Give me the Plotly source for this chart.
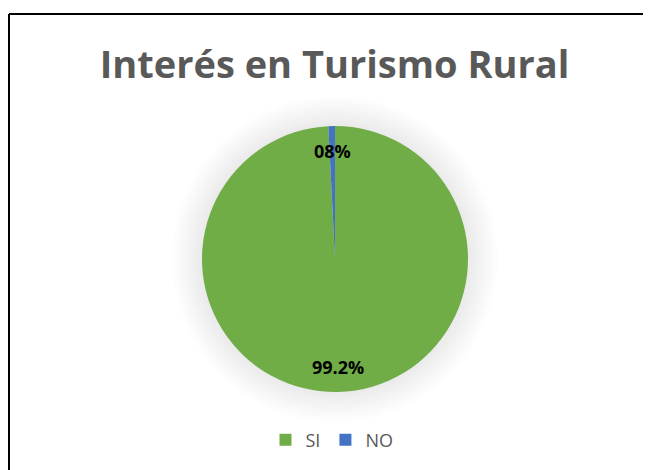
import math
import plotly.graph_objects as go

labels = ['SI', 'NO']
values = [99.2, 0.8]
label_text = ['99.2%', '08%']
colors = ['#70AD47', '#4472C4']

W, H = 651, 470
OFF = 8  # page body margin
CX, CY, R = 335 - OFF, 259 - OFF, 133  # pie centre / radius in px (figure coords)

fig = go.Figure()
fig.add_trace(go.Pie(
    labels=labels, values=values, sort=False, direction='clockwise', rotation=0,
    marker=dict(colors=colors, line=dict(width=0)),
    textinfo='none', hoverinfo='label+percent',
    domain=dict(x=[(CX - 250) / W, (CX + 250) / W],
                y=[1 - (CY + R) / H, 1 - (CY - R) / H]),
))

# data labels placed at the angular mid-point of each slice
total = sum(values)
cum = 0
annotations = []
for v, t in zip(values, label_text):
    mid = (cum + v / 2) / total * 2 * math.pi
    cum += v
    px_ = CX + 0.81 * R * math.sin(mid)
    py_ = CY - 0.81 * R * math.cos(mid)
    annotations.append(dict(x=px_ / W, y=1 - py_ / H, xref='paper', yref='paper',
                            xanchor='center', yanchor='middle',
                            text='<b>%s</b>' % t, showarrow=False,
                            font=dict(family='Open Sans', size=18, color='black')))

# soft shadow around the pie
shapes = []
for k in range(10, 0, -1):
    r = R + 3 * k
    shapes.append(dict(type='circle', xref='paper', yref='paper', layer='below',
                       x0=(CX - r) / W, x1=(CX + r) / W,
                       y0=1 - (CY + r) / H, y1=1 - (CY - r) / H,
                       fillcolor='rgba(0,0,0,0.007)', line=dict(width=0)))
# chart border (top and left visible)
shapes.append(dict(type='line', xref='paper', yref='paper', x0=1 / W, x1=1.02,
                   y0=1 - 6 / H, y1=1 - 6 / H, line=dict(color='black', width=2)))
shapes.append(dict(type='line', xref='paper', yref='paper', x0=1 / W, x1=1 / W,
                   y0=1 - 6 / H, y1=-0.02, line=dict(color='black', width=2)))

fig.update_layout(
    width=W, height=H, margin=dict(l=0, r=0, t=0, b=0),
    paper_bgcolor='white', plot_bgcolor='white',
    title=dict(text='<b>Interés en Turismo Rural</b>', x=326.5 / W, xanchor='center',
               y=1 - 57 / H, yanchor='middle',
               font=dict(family='Open Sans', size=38, color='#595959')),
    showlegend=True,
    legend=dict(orientation='h', x=324 / W, xanchor='center', y=1 - 432 / H, yanchor='middle',
                font=dict(family='Open Sans', size=18, color='#595959'),
                itemwidth=30, tracegroupgap=0),
    annotations=annotations, shapes=shapes,
)

fig.write_html('out.html')
